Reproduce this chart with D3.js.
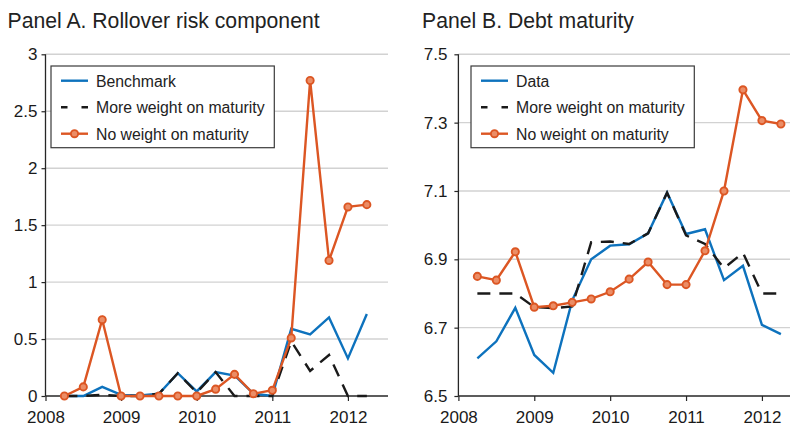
<!DOCTYPE html>
<html>
<head>
<meta charset="utf-8">
<script src="https://cdn.jsdelivr.net/npm/d3@7"></script>
<style>
  html, body { margin: 0; padding: 0; background: #fff; }
  svg { display: block; font-family: "Liberation Sans", Arial, Helvetica, sans-serif; }
</style>
</head>
<body>
<svg id="chart" width="791" height="426"></svg>
<script>
// Quarterly observation dates (fractional years)
const quarters = [2008.25, 2008.5, 2008.75, 2009.0, 2009.25, 2009.5, 2009.75, 2010.0,
                  2010.25, 2010.5, 2010.75, 2011.0, 2011.25, 2011.5, 2011.75, 2012.0, 2012.25];

// Panel A: rollover risk component
const benchmarkA   = [0, 0, 0.08, 0.01, 0.005, 0.02, 0.2, 0.04, 0.21, 0.18, 0.02, 0, 0.59, 0.54, 0.69, 0.33, 0.72];
const moreWeightA  = [0, 0, 0.01, 0, 0, 0.02, 0.2, 0.03, 0.21, 0, 0, 0, 0.48, 0.22, 0.36, 0, 0];
const noWeightA    = [0, 0.08, 0.67, 0, 0, 0, 0, 0, 0.06, 0.19, 0.02, 0.05, 0.51, 2.77, 1.19, 1.66, 1.68];

// Panel B: debt maturity
const dataB        = [6.61, 6.66, 6.758, 6.62, 6.568, 6.78, 6.90, 6.94, 6.944, 6.976, 7.095, 6.974, 6.988, 6.839, 6.881, 6.708, 6.681];
const moreWeightB  = [6.80, 6.80, 6.80, 6.76, 6.757, 6.762, 6.95, 6.952, 6.945, 6.976, 7.095, 6.97, 6.945, 6.874, 6.919, 6.80, 6.80];
const noWeightB    = [6.85, 6.839, 6.922, 6.76, 6.764, 6.774, 6.784, 6.805, 6.842, 6.892, 6.826, 6.826, 6.925, 7.10, 7.396, 7.306, 7.296];

// Axis ticks
const yearTicks  = [2008, 2009, 2010, 2011, 2012];
const yTicksA    = [0, 0.5, 1, 1.5, 2, 2.5, 3];
const yTickTextA = ["0", "0.5", "1", "1.5", "2", "2.5", "3"];
const yTicksB    = [6.5, 6.7, 6.9, 7.1, 7.3, 7.5];
const yTickTextB = ["6.5", "6.7", "6.9", "7.1", "7.3", "7.5"];

const BLUE = "#0d72bd", ORANGE = "#dc5623", BLACK = "#1a1a1a", MARKER_FILL = "#eb8d66";
const svg = d3.select("#chart");

function panel(cfg) {
  const x = d3.scaleLinear().domain(cfg.xDomain).range(cfg.xRange);
  const y = d3.scaleLinear().domain(cfg.yDomain).range([396, 54.3]);
  const g = svg.append("g");

  // title
  svg.append("text").attr("x", cfg.titleX).attr("y", 28)
    .attr("font-size", 21.2).attr("fill", "#222").text(cfg.title);

  // horizontal gridlines
  g.selectAll("line.grid").data(cfg.yTicks.slice(1)).join("line")
    .attr("x1", cfg.xRange[0]).attr("x2", cfg.xRange[1])
    .attr("y1", d => y(d)).attr("y2", d => y(d))
    .attr("stroke", "#d2d2d2").attr("stroke-width", 1.4);

  // axes
  const yAxis = d3.axisLeft(y).tickValues(cfg.yTicks)
    .tickFormat((d, i) => cfg.yTickText[i]).tickSize(4).tickPadding(cfg.yPad);
  const ya = g.append("g").attr("transform", `translate(${cfg.xRange[0]},0)`).call(yAxis);
  const xAxis = d3.axisBottom(x).tickValues(yearTicks).tickFormat(d3.format("d"))
    .tickSize(5).tickPadding(8);
  const xa = g.append("g").attr("transform", "translate(0,396)").call(xAxis);
  [ya, xa].forEach(a => {
    a.select(".domain").remove();
    a.selectAll(".tick line").attr("stroke", "#262626").attr("stroke-width", 1.2);
    a.selectAll(".tick text").attr("font-size", 17).attr("fill", "#1a1a1a")
      .attr("font-family", "\"Liberation Sans\", Arial, sans-serif");
  });
  xa.selectAll(".tick text").attr("dy", null).attr("y", 26.5);
  g.append("line").attr("x1", cfg.xRange[0]).attr("x2", cfg.xRange[0])
    .attr("y1", 54.3).attr("y2", 396).attr("stroke", "#262626").attr("stroke-width", 1.3);
  g.append("line").attr("x1", cfg.xRange[0]).attr("x2", cfg.xRange[1])
    .attr("y1", 396).attr("y2", 396).attr("stroke", "#262626").attr("stroke-width", 1.3);

  const line = d3.line().x((d, i) => x(quarters[i])).y(d => y(d));

  // series: solid blue, dashed black, orange with circle markers
  g.append("path").datum(cfg.s1).attr("d", line).attr("fill", "none")
    .attr("stroke", BLUE).attr("stroke-width", 2.4);
  g.append("path").datum(cfg.s2).attr("d", line).attr("fill", "none")
    .attr("stroke", BLACK).attr("stroke-width", 2.4).attr("stroke-dasharray", "13,9");
  g.append("path").datum(cfg.s3).attr("d", line).attr("fill", "none")
    .attr("stroke", ORANGE).attr("stroke-width", 2.4);
  g.selectAll("circle.m").data(cfg.s3).join("circle")
    .attr("cx", (d, i) => x(quarters[i])).attr("cy", d => y(d)).attr("r", 3.6)
    .attr("fill", MARKER_FILL).attr("stroke", ORANGE).attr("stroke-width", 1.9);

  // legend
  const L = cfg.legend;
  const lg = svg.append("g");
  lg.append("rect").attr("x", L.x).attr("y", 66).attr("width", L.w).attr("height", 81.7)
    .attr("fill", "#fff").attr("stroke", "#3a3a3a").attr("stroke-width", 1.2);
  const rows = [80.7, 107.3, 133.7];
  const lx0 = L.x + 10, lx1 = L.x + 37;
  lg.append("line").attr("x1", lx0).attr("x2", lx1).attr("y1", rows[0]).attr("y2", rows[0])
    .attr("stroke", BLUE).attr("stroke-width", 2.4);
  lg.append("line").attr("x1", lx0).attr("x2", lx1).attr("y1", rows[1]).attr("y2", rows[1])
    .attr("stroke", BLACK).attr("stroke-width", 2.4).attr("stroke-dasharray", "6.5,14");
  lg.append("line").attr("x1", lx0).attr("x2", lx1).attr("y1", rows[2]).attr("y2", rows[2])
    .attr("stroke", ORANGE).attr("stroke-width", 2.4);
  lg.append("circle").attr("cx", (lx0 + lx1) / 2).attr("cy", rows[2]).attr("r", 3.6)
    .attr("fill", MARKER_FILL).attr("stroke", ORANGE).attr("stroke-width", 1.9);
  lg.selectAll("text").data(cfg.names).join("text")
    .attr("x", L.x + 45).attr("y", (d, i) => rows[i] + 5.8)
    .attr("font-size", 15.8).attr("fill", "#222").text(d => d);
}

panel({
  title: "Panel A. Rollover risk component", titleX: 7.5,
  xDomain: [2008, 2012.53], xRange: [45.5, 388],
  yDomain: [0, 3], yTicks: yTicksA, yTickText: yTickTextA, yPad: 4,
  s1: benchmarkA, s2: moreWeightA, s3: noWeightA,
  names: ["Benchmark", "More weight on maturity", "No weight on maturity"],
  legend: { x: 51, w: 223.3 }
});

panel({
  title: "Panel B. Debt maturity", titleX: 422,
  xDomain: [2008, 2012.37], xRange: [458.4, 790],
  yDomain: [6.5, 7.5], yTicks: yTicksB, yTickText: yTickTextB, yPad: 7,
  s1: dataB, s2: moreWeightB, s3: noWeightB,
  names: ["Data", "More weight on maturity", "No weight on maturity"],
  legend: { x: 471, w: 223.3 }
});
</script>
</body>
</html>
